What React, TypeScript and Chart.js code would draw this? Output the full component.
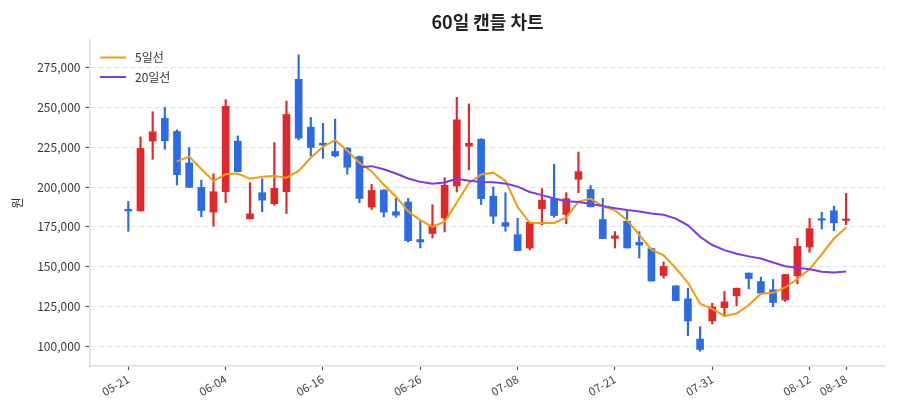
import React, { useEffect, useRef } from "react";
import { Chart, registerables } from "chart.js";

Chart.register(...registerables);

// ---- data (KRW) ----
const openPrices = [
  186000, 185000, 229000, 243200, 235000, 215200, 199800, 184300, 197100, 228900,
  180000, 196500, 189500, 197100, 267800, 237700, 227600, 222400, 224500, 219200,
  187400, 198100, 184500, 190600, 167000, 170800, 180600, 200700, 225700, 230100,
  194300, 177700, 170100, 161700, 186400, 192700, 182800, 204900, 198500, 179600,
  167800, 178500, 165300, 161300, 144400, 137900, 129700, 104400, 115800, 124200,
  131600, 145900, 140600, 135400, 129000, 144200, 162300, 179800, 185100, 179000,
];
const highPrices = [
  191000, 231600, 247400, 250200, 236000, 224900, 204400, 208400, 255000, 232200,
  202800, 205300, 228000, 254100, 283200, 243800, 240100, 242800, 224800, 219500,
  201700, 198500, 193100, 192900, 179000, 188900, 205900, 256500, 252300, 230400,
  200000, 196500, 180400, 178000, 199000, 214300, 196500, 222100, 201000, 192900,
  172000, 184800, 172000, 161700, 152900, 138000, 136400, 112200, 127000, 134300,
  136500, 146000, 143400, 141900, 145200, 167800, 180400, 184200, 188000, 196000,
];
const lowPrices = [
  172200, 185000, 217500, 223800, 201300, 199800, 181300, 175400, 190200, 209700,
  180000, 184500, 188600, 183400, 229700, 219600, 218100, 219000, 208100, 190200,
  185900, 181300, 181000, 165500, 161700, 168000, 171800, 196900, 210800, 189000,
  177100, 172200, 160000, 160600, 176200, 181000, 176900, 196500, 187600, 167600,
  161700, 161700, 155400, 140900, 142800, 128500, 106500, 96800, 113900, 118500,
  125300, 136000, 133300, 124800, 128000, 139200, 159000, 173700, 172600, 176400,
];
const closePrices = [
  185000, 224300, 234800, 229100, 207800, 199800, 185300, 197100, 250800, 209700,
  183200, 191800, 199200, 245700, 230800, 224900, 226400, 219600, 212500, 192900,
  197900, 184300, 182300, 166300, 165500, 176200, 201100, 242300, 227600, 192700,
  181700, 175400, 160000, 177900, 191800, 182100, 192700, 209700, 187600, 167600,
  169300, 161700, 163600, 140900, 150100, 128600, 115800, 97900, 124600, 127800,
  136400, 142500, 133300, 127400, 145000, 162700, 173900, 179200, 177500, 179600,
];
const tickIndices = [0, 8, 16, 24, 32, 40, 48, 56, 59];
const tickLabels = ["05-21", "06-04", "06-16", "06-26", "07-08", "07-21", "07-31", "08-12", "08-18"];
const yTickValues = [100000, 125000, 150000, 175000, 200000, 225000, 250000, 275000];

const TITLE = "60일 캔들 차트";
const Y_LABEL = "원";
const MA5_LABEL = "5일선";
const MA20_LABEL = "20일선";

const UP_COLOR = "#e0282c";
const DOWN_COLOR = "#2b6be6";
const MA5_COLOR = "#f59c0a";
const MA20_COLOR = "#7b3aec";
const FONT = "'Noto Sans CJK KR', 'Noto Sans', sans-serif";

function movingAverage(values: number[], n: number) {
  const out: { x: number; y: number }[] = [];
  for (let i = n - 1; i < values.length; i++) {
    let s = 0;
    for (let j = i - n + 1; j <= i; j++) s += values[j];
    out.push({ x: i, y: s / n });
  }
  return out;
}

const titlePlugin = {
  id: "customTitle",
  afterDraw(chart: any) {
    const { ctx, chartArea } = chart;
    ctx.save();
    ctx.font = `bold 18px ${FONT}`;
    ctx.fillStyle = "#222";
    ctx.textAlign = "center";
    ctx.textBaseline = "middle";
    ctx.fillText(TITLE, (chartArea.left + chartArea.right) / 2, 22);
    ctx.restore();
  },
};

const legendPlugin = {
  id: "insideLegend",
  afterDraw(chart: any) {
    const { ctx, chartArea } = chart;
    const items = chart.data.datasets.filter((d: any) => d.type === "line");
    ctx.save();
    ctx.font = `12px ${FONT}`;
    ctx.textBaseline = "middle";
    items.forEach((d: any, k: number) => {
      const y = chartArea.top + 17.5 + k * 19.5;
      const x0 = chartArea.left + 10;
      ctx.strokeStyle = d.borderColor;
      ctx.lineWidth = 2;
      ctx.beginPath();
      ctx.moveTo(x0, y);
      ctx.lineTo(x0 + 26, y);
      ctx.stroke();
      ctx.fillStyle = "#333";
      ctx.textAlign = "left";
      ctx.fillText(d.label, x0 + 35, y);
    });
    ctx.restore();
  },
};

function CandleChart() {
  const ref = useRef<HTMLCanvasElement | null>(null);
  useEffect(() => {
    if (!ref.current) return;
    const n = closePrices.length;
    const idx = Array.from({ length: n }, (_, i) => i);
    const colors = idx.map((i) => (closePrices[i] >= openPrices[i] ? UP_COLOR : DOWN_COLOR));
    const wicks = idx.map((i) => ({ x: i, y: [lowPrices[i], highPrices[i]] }));
    const bodies = idx.map((i) => ({ x: i, y: [openPrices[i], closePrices[i]] }));

    const chart = new Chart(ref.current, {
      data: {
        datasets: [
          {
            type: "line",
            label: MA5_LABEL,
            data: movingAverage(closePrices, 5),
            borderColor: MA5_COLOR,
            backgroundColor: MA5_COLOR,
            borderWidth: 2,
            pointRadius: 0,
            tension: 0,
            order: 1,
          } as any,
          {
            type: "line",
            label: MA20_LABEL,
            data: movingAverage(closePrices, 20),
            borderColor: MA20_COLOR,
            backgroundColor: MA20_COLOR,
            borderWidth: 2,
            pointRadius: 0,
            tension: 0,
            order: 0,
          } as any,
          {
            type: "bar",
            label: "wick",
            data: wicks as any,
            backgroundColor: colors,
            borderWidth: 0,
            barThickness: 1.5,
            grouped: false,
            order: 3,
          } as any,
          {
            type: "bar",
            label: "body",
            data: bodies as any,
            backgroundColor: colors,
            borderWidth: 0,
            barThickness: 7,
            minBarLength: 1.5,
            grouped: false,
            order: 2,
          } as any,
        ],
      },
      options: {
        animation: false,
        responsive: false,
        maintainAspectRatio: false,
        layout: { padding: { top: 40, right: 15, bottom: 0, left: 0 } },
        plugins: {
          legend: { display: false },
          tooltip: { enabled: false },
          title: { display: false },
        },
        scales: {
          x: {
            type: "linear",
            offset: false,
            min: -3.15,
            max: 62.2,
            afterBuildTicks: (scale: any) => {
              scale.ticks = tickIndices.map((v) => ({ value: v }));
            },
            afterFit: (scale: any) => {
              scale.height = 54;
            },
            ticks: {
              autoSkip: false,
              minRotation: 30,
              maxRotation: 30,
              padding: 2,
              color: "#444",
              font: { family: FONT, size: 11.5 },
              callback: (value: any) => {
                const k = tickIndices.indexOf(Number(value));
                return k >= 0 ? tickLabels[k] : "";
              },
            },
            grid: {
              offset: false,
              drawOnChartArea: false,
              drawTicks: true,
              tickLength: 4,
              tickColor: "#555",
              tickWidth: 1.2,
              tickBorderDash: [],
            },
            border: { display: true, color: "#dcdde1", width: 1.5 },
          },
          y: {
            type: "linear",
            min: 87480,
            max: 292520,
            afterBuildTicks: (scale: any) => {
              scale.ticks = yTickValues.map((v) => ({ value: v }));
            },
            afterFit: (scale: any) => {
              scale.width = 90;
            },
            title: {
              display: true,
              text: Y_LABEL,
              color: "#333",
              font: { family: FONT, size: 12.5 },
              padding: { top: 10, bottom: 0 },
            },
            ticks: {
              color: "#3a3a3a",
              padding: 5,
              font: { family: FONT, size: 12 },
              callback: (value: any) => Number(value).toLocaleString("en-US"),
            },
            grid: {
              drawOnChartArea: true,
              color: "#e2e2e2",
              lineWidth: 1,
              drawTicks: true,
              tickLength: 4.5,
              tickColor: "#555",
              tickWidth: 1.2,
              tickBorderDash: [],
            },
            border: { display: true, color: "#dcdde1", width: 1.5, dash: [5, 3] },
          },
        },
      },
      plugins: [titlePlugin, legendPlugin],
    } as any);
    return () => chart.destroy();
  }, []);
  return <canvas ref={ref} width={900} height={420} style={{ display: "block", width: 900, height: 420 }} />;
}

export default function App() {
  return (
    <div style={{ position: "absolute", left: 0, top: 0, width: 900, height: 420, background: "#fff" }}>
      <CandleChart />
    </div>
  );
}
